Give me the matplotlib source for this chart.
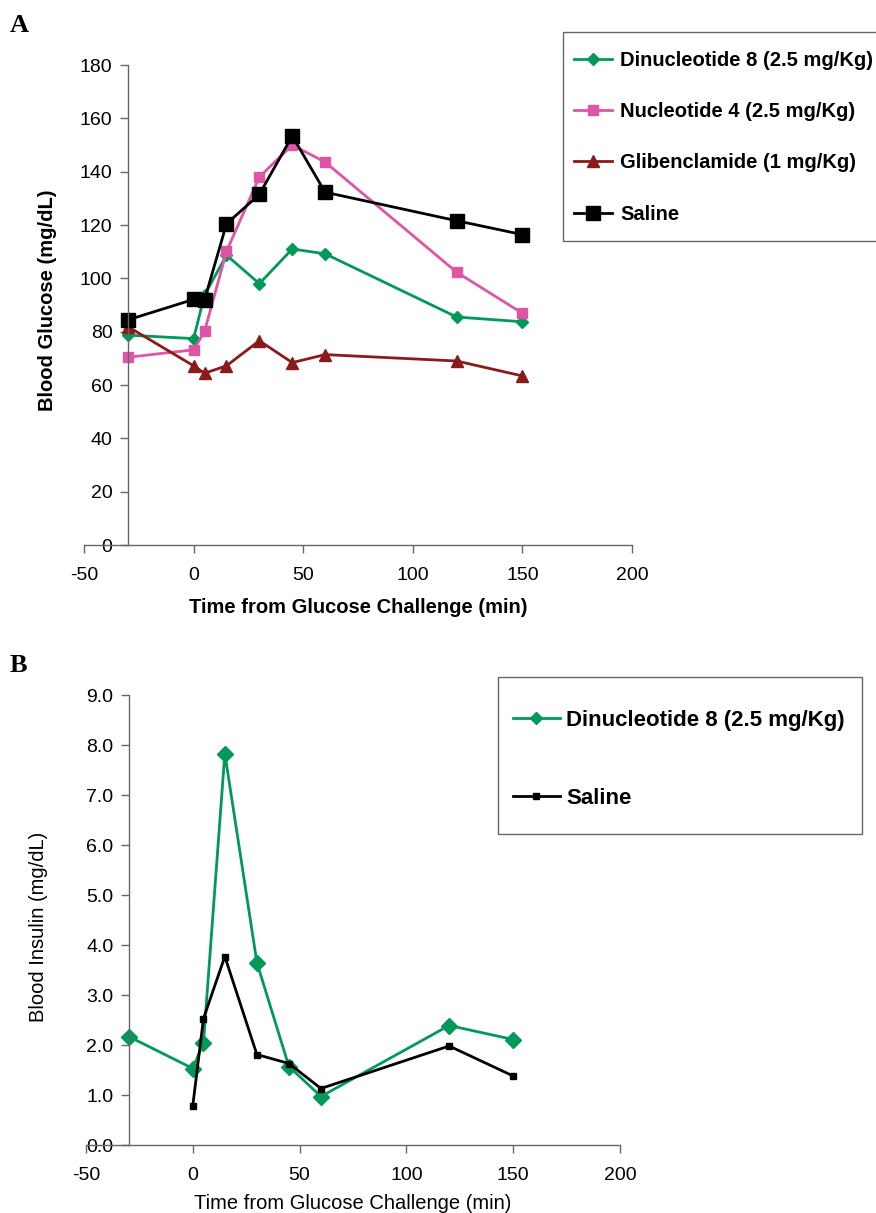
"""Glucose / insulin time course, two stacked panels."""

import matplotlib
matplotlib.use("Agg")
import matplotlib.pyplot as plt
from matplotlib.patches import Rectangle

plt.rcParams["font.family"] = ["Liberation Sans", "DejaVu Sans"]
plt.rcParams["axes.unicode_minus"] = False

# ---- panel A: blood glucose (mg/dL)
time_a = [-30, 0, 5, 15, 30, 45, 60, 120, 150]
dinuc8_glucose = [78.7, 77.4, 93.7, 108.7, 98.0, 111.0, 109.2, 85.5, 83.7]
nuc4_glucose = [70.4, 73.2, 80.1, 110.1, 138.0, 150.0, 143.6, 102.3, 86.9]
glib_glucose = [81.9, 67.2, 64.4, 67.2, 76.6, 68.4, 71.4, 69.0, 63.4]
saline_glucose = [84.4, 92.1, 92.0, 120.4, 131.5, 153.4, 132.3, 121.6, 116.4]

# ---- panel B: blood insulin
time_b_dinuc = [-30, 0, 5, 15, 30, 45, 60, 120, 150]
dinuc8_insulin = [2.17, 1.53, 2.05, 7.83, 3.65, 1.57, 0.97, 2.39, 2.11]
time_b_saline = [0, 5, 15, 30, 45, 60, 120, 150]
saline_insulin = [0.79, 2.53, 3.77, 1.81, 1.63, 1.13, 1.98, 1.38]

GREEN = "#00995a"
PINK = "#de55a5"
DARKRED = "#8b1a1a"
BLACK = "#000000"
FRAME = "#666666"

W, H = 876, 1213
fig = plt.figure(figsize=(W / 100, H / 100), dpi=100)


def px_axes(x0, y0, x1, y1):
    """Axes from pixel box (top-left origin)."""
    return fig.add_axes([x0 / W, 1 - y1 / H, (x1 - x0) / W, (y1 - y0) / H])


def px_frame(x0, y0, x1, y1):
    """Plain legend frame drawn in figure pixels."""
    fig.patches.append(Rectangle((x0 / W, 1 - y1 / H), (x1 - x0) / W, (y1 - y0) / H,
                                 transform=fig.transFigure, fill=False,
                                 edgecolor=FRAME, linewidth=1.0))


def style_axes(ax, y_spine_at):
    for side in ("top", "right"):
        ax.spines[side].set_visible(False)
    ax.spines["left"].set_position(("data", y_spine_at))
    for side in ("left", "bottom"):
        ax.spines[side].set_color(FRAME)
        ax.spines[side].set_linewidth(1.0)
    ax.tick_params(direction="out", length=6, width=1.0, color=FRAME, labelsize=14)
    ax.tick_params(axis="x", pad=10)
    ax.tick_params(axis="y", pad=5)


# ---------------- panel A
ax1 = px_axes(84, 65, 632, 545)
ax1.plot(time_a, dinuc8_glucose, color=GREEN, marker="D", ms=6.5, lw=2,
         label="Dinucleotide 8 (2.5 mg/Kg)", clip_on=False)
ax1.plot(time_a, nuc4_glucose, color=PINK, marker="s", ms=7.5, lw=2,
         label="Nucleotide 4 (2.5 mg/Kg)", clip_on=False)
ax1.plot(time_a, glib_glucose, color=DARKRED, marker="^", ms=9, lw=2,
         label="Glibenclamide (1 mg/Kg)", clip_on=False)
ax1.plot(time_a, saline_glucose, color=BLACK, marker="s", ms=10, lw=2,
         label="Saline", clip_on=False)
ax1.set_xlim(-50, 200)
ax1.set_ylim(0, 180)
ax1.set_xticks(range(-50, 201, 50))
ax1.set_yticks(range(0, 181, 20))
style_axes(ax1, -30)
ax1.set_xlabel("Time from Glucose Challenge (min)", fontsize=14.5,
               fontweight="bold", labelpad=10)
ax1.set_ylabel("Blood Glucose (mg/dL)", fontsize=14.5, fontweight="bold")
ax1.yaxis.set_label_coords(57 / W, 1 - 300 / H, transform=fig.transFigure)

px_frame(563, 32, 890, 241)
ax1.legend(loc="upper left", bbox_to_anchor=(574 / W, 1 - 51 / H),
           bbox_transform=fig.transFigure, frameon=False,
           prop={"weight": "bold", "size": 14.5},
           handlelength=1.9, handletextpad=0.4, labelspacing=1.6,
           borderpad=0, borderaxespad=0)

# ---------------- panel B
ax2 = px_axes(86, 695, 620, 1145)
ax2.plot(time_b_dinuc, dinuc8_insulin, color=GREEN, marker="D", ms=8, lw=2,
         label="Dinucleotide 8 (2.5 mg/Kg)", clip_on=False)
ax2.plot(time_b_saline, saline_insulin, color=BLACK, marker="s", ms=5, lw=2,
         label="Saline", clip_on=False)
ax2.set_xlim(-50, 200)
ax2.set_ylim(0, 9)
ax2.set_xticks(range(-50, 201, 50))
ax2.set_yticks([i * 1.0 for i in range(10)])
ax2.set_yticklabels([f"{i:.1f}" for i in range(10)])
style_axes(ax2, -30)
ax2.set_xlabel("Time from Glucose Challenge (min)", fontsize=14.5, labelpad=7)
ax2.set_ylabel("Blood Insulin (mg/dL)", fontsize=14.5)
ax2.yaxis.set_label_coords(48 / W, 1 - 927 / H, transform=fig.transFigure)

px_frame(498, 677, 862, 834)
ax2.legend(loc="upper left", bbox_to_anchor=(513 / W, 1 - 710 / H),
           bbox_transform=fig.transFigure, frameon=False,
           prop={"weight": "bold", "size": 16},
           handlelength=2.1, handletextpad=0.3, labelspacing=2.55,
           markerscale=0.8, borderpad=0, borderaxespad=0)

# panel letters
fig.text(10 / W, 1 - 14 / H, "A", family=["Liberation Serif", "DejaVu Serif"],
         fontsize=19, fontweight="bold", va="top")
fig.text(10 / W, 1 - 654 / H, "B", family=["Liberation Serif", "DejaVu Serif"],
         fontsize=19, fontweight="bold", va="top")

fig.savefig("out.png", dpi=100)
